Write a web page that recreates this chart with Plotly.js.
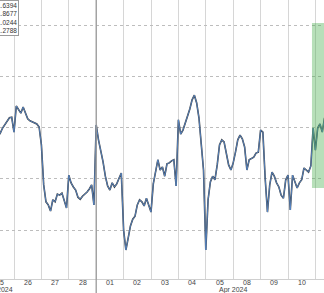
<!DOCTYPE html>
<html>
<head>
<meta charset="utf-8">
<script src="https://cdn.plot.ly/plotly-3.0.1.min.js"></script>
<style>html,body{margin:0;padding:0;background:#fff;}#chart{width:324px;height:293px;}</style>
</head>
<body>
<div id="chart"></div>
<script>
// Trading days shown (Mar 29 and weekends skipped), sampled every 2 hours
var days = ["2024-03-25","2024-03-26","2024-03-27","2024-03-28","2024-04-01","2024-04-02",
            "2024-04-03","2024-04-04","2024-04-05","2024-04-08","2024-04-09","2024-04-10","2024-04-11"];
var dayLabels = ["25","26","27","28","01","02","03","04","05","08","09","10"];
var firstHour = 10;      // first sample hour on the first day
var stepHours = 2;
// values per day (2-hour samples)
var mar25 = [2.83, 2.89, 2.99, 3.05, 3.13, 3.19, 3.20];
var mar26 = [2.91, 3.42, 3.34, 3.28, 3.40, 3.28, 3.17, 3.13, 3.11, 3.09, 3.07, 3.01];
var mar27 = [2.66, 1.88, 1.55, 1.49, 1.37, 1.59, 1.55, 1.70, 1.68, 1.72, 1.59, 1.43];
var mar28 = [2.07, 1.92, 1.84, 1.78, 1.64, 1.60, 1.66, 1.70, 1.74, 1.80, 1.88, 1.49];
var apr01 = [3.05, 2.76, 2.56, 2.33, 2.05, 1.86, 1.78, 1.92, 1.84, 1.90, 2.01, 2.11];
var apr02 = [1.00, 0.61, 0.84, 1.08, 1.21, 1.27, 1.49, 1.59, 1.55, 1.47, 1.62, 1.49];
var apr03 = [1.35, 1.90, 2.13, 2.37, 2.17, 2.23, 2.05, 2.29, 2.31, 2.35, 2.37, 1.86];
var apr04 = [3.15, 2.87, 2.95, 3.09, 3.20, 3.36, 3.54, 3.63, 3.48, 3.19, 2.68, 2.17];
var apr05 = [0.61, 1.59, 1.94, 2.05, 1.98, 2.27, 2.66, 2.76, 2.72, 2.46, 2.27, 2.17];
var apr08 = [2.31, 2.52, 2.76, 2.85, 2.78, 2.62, 2.17, 2.37, 2.39, 2.42, 2.50, 2.52];
var apr09 = [2.95, 2.91, 2.01, 1.35, 1.88, 2.13, 2.05, 1.92, 1.84, 1.68, 1.62, 1.98];
var apr10 = [2.07, 1.39, 2.07, 1.92, 1.82, 1.92, 1.98, 2.21, 2.17, 2.13, 2.25, 2.99];
var apr11 = [2.56, 2.99, 3.07, 2.91, 3.19];
var perDay = [mar25, mar26, mar27, mar28, apr01, apr02, apr03, apr04, apr05, apr08, apr09, apr10, apr11];

var legendLines = ["1.6394", "1.8677", "1.0244", "1.2788"];
var monthLabels = ["Mar 2024", "Apr 2024"];

function pad(n){return (n<10?"0":"")+n;}
var xs = [], ys = [];
perDay.forEach(function(vals, d){
  var h0 = d === 0 ? firstHour : 0;
  vals.forEach(function(v, k){
    xs.push(days[d] + " " + pad(h0 + k*stepHours) + ":00");
    ys.push(v);
  });
});

var traces = [
  {x: xs, y: ys, type: "scatter", mode: "lines", line: {color: "#3c3c3c", width: 1.6}, hoverinfo: "skip"},
  {x: xs, y: ys, type: "scatter", mode: "lines", line: {color: "#5a8fd6", width: 0.8}, hoverinfo: "skip"}
];

var lblFont = {family: "Liberation Sans, Arial, sans-serif", size: 7, color: "#444"};
var annotations = [
  {xref: "paper", yref: "paper", x: 18.5/324, y: 1, xanchor: "right", yanchor: "top",
   text: legendLines.join("<br>"), showarrow: false, align: "right",
   font: {size: 6.5, color: "#333"}, bgcolor: "#fff", bordercolor: "#9a9a9a", borderwidth: 1, borderpad: 1},
  {xref: "paper", yref: "paper", x: 13.5/324, y: -10.5/279, xanchor: "right", yanchor: "middle",
   text: monthLabels[0], showarrow: false, font: lblFont, borderpad: 0},
  {xref: "x", yref: "paper", x: "2024-04-08 00:00", y: -10.5/279, xanchor: "center", yanchor: "middle",
   text: monthLabels[1], showarrow: false, font: lblFont, borderpad: 0}
];
dayLabels.forEach(function(t, i){
  annotations.push({xref: "x", yref: "paper", x: days[i] + " 12:00", y: -3.8/279,
    xanchor: "center", yanchor: "middle", text: t, showarrow: false, font: lblFont, borderpad: 0});
});

var layout = {
  width: 324, height: 293,
  margin: {l: 0, r: 0, t: 0, b: 14},
  paper_bgcolor: "#fff", plot_bgcolor: "#fff",
  showlegend: false,
  font: lblFont,
  xaxis: {
    type: "date",
    range: ["2024-03-25 11:44", "2024-04-11 07:32"],
    rangebreaks: [{bounds: ["sat", "mon"]}, {values: ["2024-03-29"]}],
    tickmode: "linear", tick0: "2024-03-25", dtick: 86400000,
    showticklabels: false, ticks: "",
    showgrid: true, gridcolor: "#d6d6d6", gridwidth: 1,
    showline: true, linecolor: "#cfcfcf", linewidth: 1,
    zeroline: false, automargin: false
  },
  yaxis: {
    range: [0.044, 5.488],
    tickmode: "linear", tick0: 0, dtick: 1,
    showticklabels: false,
    showgrid: true, gridcolor: "#bdbdbd", griddash: "dot", gridwidth: 1,
    zeroline: false, showline: false, automargin: false
  },
  shapes: [
    {type: "rect", xref: "x", yref: "y", x0: "2024-04-10 21:00", x1: "2024-04-11 12:00",
     y0: 1.82, y1: 5.04, fillcolor: "rgba(76,175,80,0.4)", line: {width: 0}, layer: "above"},
    {type: "line", xref: "x", yref: "paper", x0: "2024-04-01", x1: "2024-04-01",
     y0: -0.06, y1: 1, line: {color: "#9a9a9a", width: 1.3}, layer: "above"}
  ],
  annotations: annotations
};

Plotly.newPlot("chart", traces, layout, {staticPlot: true, displayModeBar: false});
</script>
</body>
</html>
